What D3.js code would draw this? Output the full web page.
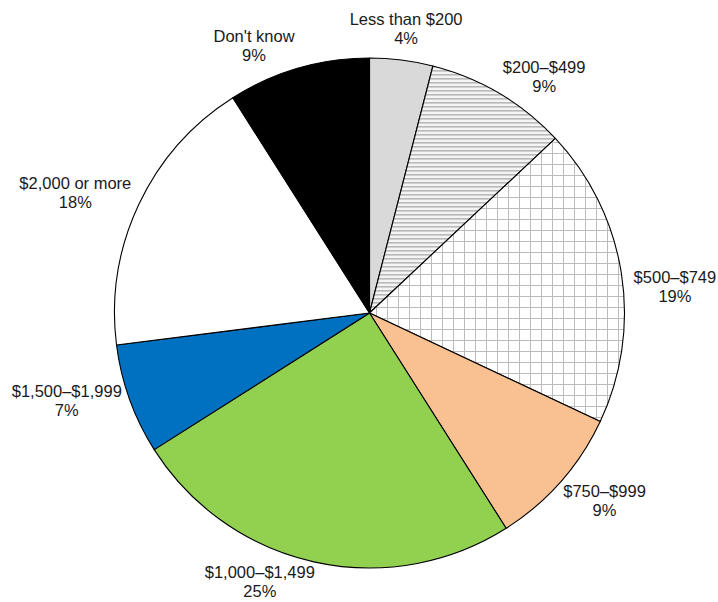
<!DOCTYPE html>
<html>
<head>
<meta charset="utf-8">
<script src="https://cdn.jsdelivr.net/npm/d3@7"></script>
<style>
  html, body { margin: 0; padding: 0; background: #fff; }
  svg { display: block; }
  text { font-family: "Liberation Sans", Arial, Helvetica, sans-serif; fill: #1a1a1a; }
</style>
</head>
<body>
<svg id="chart" width="718" height="602"></svg>
<script>
// Spending categories and their share of respondents (percent)
const categories = [
  "Less than $200", "$200\u2013$499", "$500\u2013$749", "$750\u2013$999",
  "$1,000\u2013$1,499", "$1,500\u2013$1,999", "$2,000 or more", "Don't know"
];
const shares = [4, 9, 19, 9, 25, 7, 18, 9];
const valueLabels = ["4%", "9%", "19%", "9%", "25%", "7%", "18%", "9%"];

// Slice fills: plain colours or pattern ids defined below
const fills = [
  "#d9d9d9", "url(#hstripes)", "url(#grid)", "#f9c191",
  "#92d050", "#0070c0", "#ffffff", "#000000"
];

// Label placement: small shifts from the point on the label ring
const labelShift = [
  [0, 2], [26, 11], [17, 16], [16, -9],
  [-46, -20], [-28, -15], [-30, 0], [-34, 9]
];

const width = 718, height = 602;
const cx = 369.5, cy = 313, radius = 255, labelRadius = 292;

const svg = d3.select("#chart");
const defs = svg.append("defs");

// Horizontal hatch
const hs = defs.append("pattern")
  .attr("id", "hstripes").attr("patternUnits", "userSpaceOnUse")
  .attr("width", 8).attr("height", 4);
hs.append("rect").attr("width", 8).attr("height", 4).attr("fill", "#f4f4f4");
hs.append("rect").attr("y", 1).attr("width", 8).attr("height", 1.6).attr("fill", "#b9b9b9");

// Square grid
const gp = defs.append("pattern")
  .attr("id", "grid").attr("patternUnits", "userSpaceOnUse")
  .attr("width", 11).attr("height", 11)
  .attr("x", cx).attr("y", cy);
gp.append("rect").attr("width", 11).attr("height", 11).attr("fill", "#ffffff");
gp.append("path").attr("d", "M0,0.5H11M0.5,0V11")
  .attr("stroke", "#bcbcbc").attr("stroke-width", 1).attr("fill", "none");

const data = categories.map((c, i) => ({ category: c, share: shares[i], label: valueLabels[i], fill: fills[i], shift: labelShift[i] }));

const pie = d3.pie().value(d => d.share).sort(null);
const arc = d3.arc().innerRadius(0).outerRadius(radius);
const labelArc = d3.arc().innerRadius(labelRadius).outerRadius(labelRadius);

const g = svg.append("g").attr("transform", `translate(${cx},${cy})`);
const arcs = pie(data);

g.selectAll("path.slice")
  .data(arcs)
  .join("path")
  .attr("class", "slice")
  .attr("d", arc)
  .attr("fill", d => d.data.fill)
  .attr("stroke", "#000")
  .attr("stroke-width", 1.1)
  .attr("stroke-linejoin", "round");

const labels = g.selectAll("text.lbl")
  .data(arcs)
  .join("text")
  .attr("class", "lbl")
  .attr("text-anchor", "middle")
  .style("font-size", "16.5px")
  .attr("transform", d => {
    const [x, y] = labelArc.centroid(d);
    return `translate(${x + d.data.shift[0]},${y + d.data.shift[1]})`;
  });

labels.append("tspan").attr("x", 0).attr("y", 0).text(d => d.data.category);
labels.append("tspan").attr("x", 0).attr("y", 19).text(d => d.data.label);
</script>
</body>
</html>
